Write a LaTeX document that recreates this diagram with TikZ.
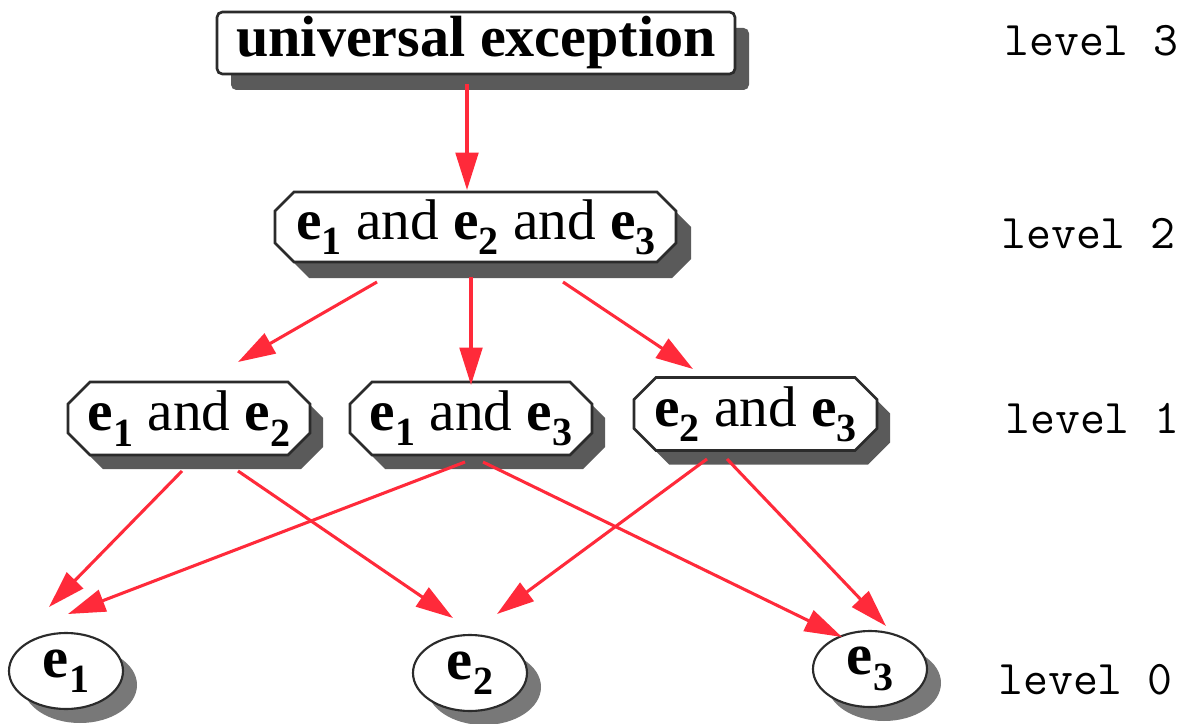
\documentclass[tikz,border=0pt]{standalone}
\usepackage{fontspec}
\setmainfont{Liberation Serif}
\usetikzlibrary{arrows.meta,calc,shapes.geometric,shadows}
\definecolor{redarrow}{RGB}{255,42,58}
\definecolor{bordc}{RGB}{43,43,43}
\definecolor{boxsh}{RGB}{90,90,90}
\definecolor{ellsh}{RGB}{120,120,120}
\newcommand\ee[1]{\textbf{e}\raisebox{-11.5pt}{\fontsize{30}{30}\selectfont\bfseries #1}}
\newcommand\octagonpath[6]{\path[#1] (#2-#4+#6,#3-#5) -- (#2+#4-#6,#3-#5) -- (#2+#4,#3-#5+#6) -- (#2+#4,#3+#5-#6) -- (#2+#4-#6,#3+#5) -- (#2-#4+#6,#3+#5) -- (#2-#4,#3+#5-#6) -- (#2-#4,#3-#5+#6) -- cycle;}
\begin{document}
\begin{tikzpicture}[x=0.75pt,y=-0.75pt,
 bigtext/.style={font=\fontsize{43}{43}\selectfont, inner sep=0pt},
 conn/.style={draw=redarrow, line width=2.3pt, -{Triangle[length=28pt,width=17pt]}},
 octfill/.style={fill=white, draw=bordc, line width=2pt, line join=miter},
 octshadow/.style={fill=boxsh},
 ellnode/.style={ellipse, draw=bordc, line width=1.6pt, fill=white, minimum width=85.5pt, minimum height=57pt, inner sep=0pt, font=\fontsize{44}{44}\selectfont, drop shadow={shadow xshift=10.5pt, shadow yshift=-10.5pt, fill=ellsh, opacity=1}},
 topbox/.style={rectangle, rounded corners=4pt, draw=bordc, line width=2pt, fill=white, minimum width=388.5pt, minimum height=46.5pt, inner sep=0pt, font=\fontsize{43.6}{44}\selectfont\bfseries, drop shadow={shadow xshift=10.5pt, shadow yshift=-12pt, fill=boxsh, opacity=1}},
 lvl/.style={anchor=base west, inner sep=0pt, font=\ttfamily\fontsize{36.3}{37}\selectfont}]
\useasboundingbox (0,0) rectangle (1189,724);

% level 3
\node[topbox] (T) at (476,43) {universal exception};

% level 2
\octagonpath{octshadow, shift={(15,16)}}{475.5}{227}{200.5}{35}{19}
\octagonpath{octfill}{475.5}{227}{200.5}{35}{19}
\node[bigtext] (L2) at (476,227) {\ee{1} and \ee{2} and \ee{3}};

% level 1
\octagonpath{octshadow, shift={(13,14)}}{189}{418.5}{121}{36.5}{22}
\octagonpath{octfill}{189}{418.5}{121}{36.5}{22}
\node[bigtext] (A) at (189,418.5) {\ee{1} and \ee{2}};
\octagonpath{octshadow, shift={(13,14)}}{471}{418.5}{121}{36.5}{22}
\octagonpath{octfill}{471}{418.5}{121}{36.5}{22}
\node[bigtext] (B) at (471,418.5) {\ee{1} and \ee{3}};
\octagonpath{octshadow, shift={(13,14)}}{755.5}{414}{121.5}{36.5}{22}
\octagonpath{octfill}{755.5}{414}{121.5}{36.5}{22}
\node[bigtext] (C) at (755.5,414) {\ee{2} and \ee{3}};

% level 0
\node[ellnode] (e1) at (66,671) {\ee{1}};
\node[ellnode] (e2) at (470,673) {\ee{2}};
\node[ellnode] (e3) at (870,669) {\ee{3}};

% level labels
\node[lvl] (lv3) at (1004,56) {level 3};
\node[lvl] (lv2) at (1001,248) {level 2};
\node[lvl] (lv1) at (1005,433) {level 1};
\node[lvl] (lv0) at (998,694) {level 0};

% connectors
\draw[conn] ($(T)+(-9,41)$) -- ($(L2)+(-9,-37)$);
\draw[conn] ($(L2)+(-99,55)$) -- ($(A)+(49,-56.5)$);
\draw[conn] ($(L2)+(-5,50)$) -- ($(B)+(0,-33.5)$);
\draw[conn] ($(L2)+(87,55)$) -- ($(C)+(-62.5,-45)$);
\draw[conn] ($(A)+(-7,52.5)$) -- ($(e1)+(-17,-64)$);
\draw[conn] ($(A)+(49,52.5)$) -- ($(e2)+(-17,-55)$);
\draw[conn] ($(B)+(-6,43.5)$) -- ($(e1)+(2,-57)$);
\draw[conn] ($(B)+(12,43.5)$) -- ($(e3)+(-28,-32)$);
\draw[conn] ($(C)+(-48.5,45)$) -- ($(e2)+(27,-59)$);
\draw[conn] ($(C)+(-28.5,45)$) -- ($(e3)+(16,-43)$);
\end{tikzpicture}
\end{document}
